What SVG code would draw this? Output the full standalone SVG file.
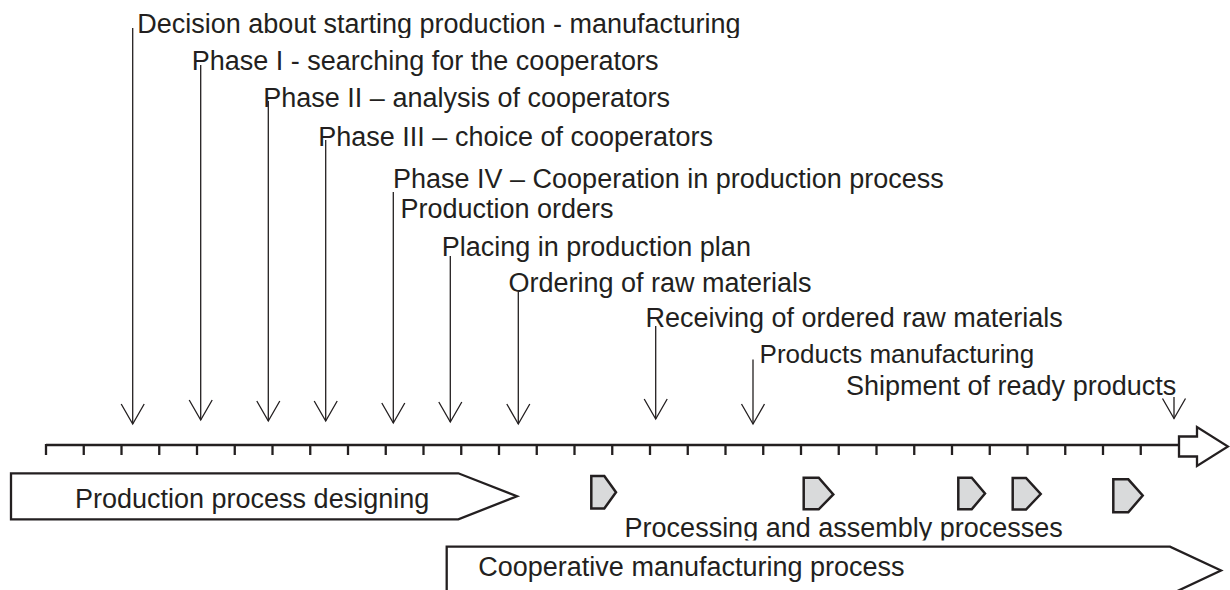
<svg xmlns="http://www.w3.org/2000/svg" width="1230" height="590" viewBox="0 0 1230 590">
<style>
text{font-family:"Liberation Sans",Arial,sans-serif;font-size:27px;fill:#231f20}
.ln{stroke:#231f20;stroke-width:1.3;fill:none}
.box{fill:#fff;stroke:#231f20;stroke-width:2.3;stroke-linejoin:miter}
.pent{fill:#d9dadb;stroke:#231f20;stroke-width:2.5;stroke-linejoin:miter}
.tick{stroke:#231f20;stroke-width:2.3}
</style>
<defs>
<marker id="v" viewBox="-1 -13 23 26" markerWidth="23" markerHeight="26" refX="20" refY="0" orient="auto" markerUnits="userSpaceOnUse">
<path d="M0,-11.5 L20,0 L0,11.5" fill="none" stroke="#231f20" stroke-width="1.3"/>
</marker>
<clipPath id="c1"><rect x="0" y="0" width="1230" height="38"/></clipPath>
<clipPath id="c2"><rect x="0" y="500" width="1230" height="40.5"/></clipPath>
</defs>
<rect width="1230" height="590" fill="#fff"/>

<g id="timeline">
<line x1="46" y1="445" x2="1180" y2="445" stroke="#231f20" stroke-width="2.5"/>
<g class="tick">
<line x1="46" y1="444" x2="46" y2="455"/><line x1="83.75" y1="444" x2="83.75" y2="455"/><line x1="121.5" y1="444" x2="121.5" y2="455"/><line x1="159.25" y1="444" x2="159.25" y2="455"/><line x1="197" y1="444" x2="197" y2="455"/><line x1="234.75" y1="444" x2="234.75" y2="455"/><line x1="272.5" y1="444" x2="272.5" y2="455"/><line x1="310.25" y1="444" x2="310.25" y2="455"/><line x1="348" y1="444" x2="348" y2="455"/><line x1="385.75" y1="444" x2="385.75" y2="455"/><line x1="423.5" y1="444" x2="423.5" y2="455"/><line x1="461.25" y1="444" x2="461.25" y2="455"/><line x1="499" y1="444" x2="499" y2="455"/><line x1="536.75" y1="444" x2="536.75" y2="455"/><line x1="574.5" y1="444" x2="574.5" y2="455"/><line x1="612.25" y1="444" x2="612.25" y2="455"/><line x1="650" y1="444" x2="650" y2="455"/><line x1="687.75" y1="444" x2="687.75" y2="455"/><line x1="725.5" y1="444" x2="725.5" y2="455"/><line x1="763.25" y1="444" x2="763.25" y2="455"/><line x1="801" y1="444" x2="801" y2="455"/><line x1="838.75" y1="444" x2="838.75" y2="455"/><line x1="876.5" y1="444" x2="876.5" y2="455"/><line x1="914.25" y1="444" x2="914.25" y2="455"/><line x1="952" y1="444" x2="952" y2="455"/><line x1="989.75" y1="444" x2="989.75" y2="455"/><line x1="1027.5" y1="444" x2="1027.5" y2="455"/><line x1="1065.25" y1="444" x2="1065.25" y2="455"/><line x1="1103" y1="444" x2="1103" y2="455"/><line x1="1140.75" y1="444" x2="1140.75" y2="455"/>
</g>
<polygon class="box" stroke-width="2.5" points="1179,436.5 1197,436.5 1197,427 1228,446.5 1197,466 1197,456.5 1179,456.5"/>
</g>

<g id="connectors">
<line class="ln" x1="132.7" y1="28" x2="132.7" y2="424" marker-end="url(#v)"/>
<line class="ln" x1="200.7" y1="65" x2="200.7" y2="420" marker-end="url(#v)"/>
<line class="ln" x1="268.3" y1="101" x2="268.3" y2="421" marker-end="url(#v)"/>
<line class="ln" x1="325.7" y1="140" x2="325.7" y2="421" marker-end="url(#v)"/>
<line class="ln" x1="393.3" y1="192" x2="393.3" y2="423" marker-end="url(#v)"/>
<line class="ln" x1="450.3" y1="256" x2="450.3" y2="422" marker-end="url(#v)"/>
<line class="ln" x1="518.3" y1="291.5" x2="518.3" y2="424" marker-end="url(#v)"/>
<line class="ln" x1="655.7" y1="326" x2="655.7" y2="419" marker-end="url(#v)"/>
<line class="ln" x1="753" y1="359.5" x2="753" y2="424" marker-end="url(#v)"/>
<line class="ln" x1="1174" y1="397" x2="1174" y2="418.5" marker-end="url(#v)"/>
</g>

<g id="n-decision"><text x="137.3" y="33.3" clip-path="url(#c1)">Decision about starting production - manufacturing</text></g>
<g id="n-phase1"><text x="191.7" y="69.5">Phase I - searching for the cooperators</text></g>
<g id="n-phase2"><text x="263.3" y="107.3">Phase II – analysis of cooperators</text></g>
<g id="n-phase3"><text x="318.3" y="145.5">Phase III – choice of cooperators</text></g>
<g id="n-phase4"><text x="393" y="187.5">Phase IV – Cooperation in production process</text></g>
<g id="n-orders"><text x="400.5" y="218.3">Production orders</text></g>
<g id="n-placing"><text x="441.7" y="255.5">Placing in production plan</text></g>
<g id="n-ordering"><text x="508.5" y="291.5">Ordering of raw materials</text></g>
<g id="n-receiving"><text x="645.5" y="326.7">Receiving of ordered raw materials</text></g>
<g id="n-products"><text x="759.6" y="363.3" style="font-size:26px">Products manufacturing</text></g>
<g id="n-shipment"><text x="846" y="395">Shipment of ready products</text></g>

<g id="n-designing">
<polygon class="box" points="11,473.3 458.3,473.3 517,496.3 458.3,519.3 11,519.3"/>
<text x="75" y="508.3">Production process designing</text>
</g>

<g id="n-processing">
<polygon class="pent" points="591.3,476 604.3,476 616,492.3 604.3,508.5 591.3,508.5"/>
<polygon class="pent" points="803.7,477.7 818.7,477.7 833.3,494.5 818.7,509.3 803.7,509.3"/>
<polygon class="pent" points="958.3,477.7 971.7,477.7 985,493.5 971.7,509.3 958.3,509.3"/>
<polygon class="pent" points="1012.7,478 1026,478 1040.7,494 1026,509.5 1012.7,509.5"/>
<polygon class="pent" points="1113.3,479.3 1128.3,479.3 1142.7,495.5 1128.3,512.3 1113.3,512.3"/>
<text x="624.6" y="537.3" clip-path="url(#c2)">Processing and assembly processes</text>
</g>

<g id="n-cooperative">
<polygon class="box" points="446.7,546.7 1170,546.7 1221,570.5 1170,594.5 446.7,594.5"/>
<text x="478.3" y="576.3">Cooperative manufacturing process</text>
</g>
</svg>
